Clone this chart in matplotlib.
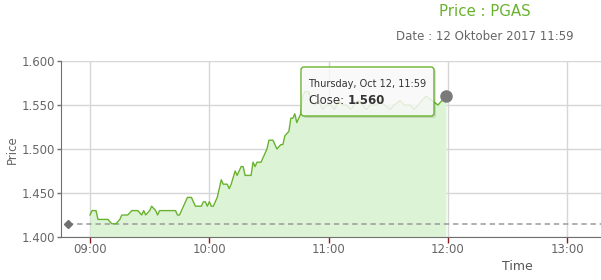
import matplotlib
matplotlib.use("Agg")
import matplotlib.pyplot as plt
from matplotlib.patches import FancyBboxPatch
from matplotlib.transforms import IdentityTransform

# intraday close prices, PGAS, 12 Oct 2017
times = [
    "09:00", "09:01", "09:03", "09:04", "09:09", "09:11", "09:13", "09:15",
    "09:16", "09:19", "09:21", "09:24", "09:26", "09:27", "09:28", "09:30",
    "09:31", "09:33", "09:34", "09:35", "09:43", "09:44", "09:45", "09:47",
    "09:49", "09:51", "09:53", "09:56", "09:57", "09:58", "09:59", "10:00",
    "10:01", "10:02", "10:04", "10:06", "10:07", "10:09", "10:10", "10:11",
    "10:13", "10:14", "10:16", "10:17", "10:18", "10:21", "10:22", "10:23",
    "10:24", "10:26", "10:29", "10:30", "10:32", "10:33", "10:34", "10:36",
    "10:37", "10:38", "10:40", "10:41", "10:42", "10:43", "10:44", "10:45",
    "10:46", "10:47", "10:48", "10:50", "10:51", "10:53", "10:55", "10:57",
    "10:59", "11:01", "11:03", "11:05", "11:07", "11:09", "11:11", "11:13",
    "11:15", "11:17", "11:19", "11:21", "11:24", "11:26", "11:28", "11:31",
    "11:33", "11:36", "11:38", "11:41", "11:43", "11:45", "11:47", "11:49",
    "11:52", "11:55", "11:57", "11:59",
]
close = [
    1.425, 1.430, 1.430, 1.420, 1.420, 1.415, 1.415, 1.420,
    1.425, 1.425, 1.430, 1.430, 1.425, 1.430, 1.425, 1.430,
    1.435, 1.430, 1.425, 1.430, 1.430, 1.425, 1.425, 1.435,
    1.445, 1.445, 1.435, 1.435, 1.440, 1.440, 1.435, 1.440,
    1.435, 1.435, 1.445, 1.465, 1.460, 1.460, 1.455, 1.460,
    1.475, 1.470, 1.480, 1.480, 1.470, 1.470, 1.485, 1.480,
    1.485, 1.485, 1.500, 1.510, 1.510, 1.505, 1.500, 1.505,
    1.505, 1.515, 1.520, 1.535, 1.535, 1.540, 1.530, 1.535,
    1.540, 1.560, 1.565, 1.565, 1.555, 1.550, 1.555, 1.545,
    1.550, 1.550, 1.545, 1.555, 1.550, 1.550, 1.545, 1.550,
    1.555, 1.550, 1.545, 1.550, 1.550, 1.555, 1.550, 1.545,
    1.550, 1.555, 1.550, 1.550, 1.545, 1.550, 1.555, 1.560,
    1.555, 1.550, 1.555, 1.560,
]
prev_close = 1.415
prev_time = "08:49"

hour_ticks = ["09:00", "10:00", "11:00", "12:00", "13:00"]
price_ticks = [1.400, 1.450, 1.500, 1.550, 1.600]


def to_min(t):
    h, m = t.split(":")
    return (int(h) - 9) * 60 + int(m)


x = [to_min(t) for t in times]

GREEN = "#68b32e"
FILL = "#ddf3d5"
GREY_TXT = "#666666"

fig = plt.figure(figsize=(6.01, 2.80), dpi=100)
ax = fig.add_axes([61 / 601, 1 - 237 / 280, 540 / 601, 176 / 280])

ax.fill_between(x, close, 1.40, color=FILL, lw=0, zorder=1)
ax.plot(x, close, color=GREEN, lw=1.0, zorder=3)

ax.plot([to_min(prev_time), 260], [prev_close, prev_close], color="#9a9a9a",
        lw=1.1, ls=(0, (3.5, 2.5)), zorder=2)
ax.plot([to_min(prev_time)], [prev_close], marker="D", ms=4.5, color="#707070",
        zorder=4)
ax.plot([x[-1]], [close[-1]], marker="o", ms=8, color="#7a7a7a", zorder=5,
        clip_on=False)

ax.set_xlim(-14.6, 257)
ax.set_ylim(1.40, 1.60)
ax.set_xticks([to_min(t) for t in hour_ticks])
ax.set_xticklabels(hour_ticks)
ax.set_yticks(price_ticks)
ax.set_yticklabels([f"{v:.3f}" for v in price_ticks])

ax.grid(True, color="#d6d6d6", lw=1.0, zorder=0)
ax.set_axisbelow(True)
for s in ("top", "right"):
    ax.spines[s].set_visible(False)
ax.spines["left"].set_color("#707070")
ax.spines["bottom"].set_color("#707070")
ax.tick_params(axis="x", colors="#8b1a1a", length=4, width=1, labelcolor=GREY_TXT,
               labelsize=8.5, pad=0.5)
ax.tick_params(axis="y", colors="#707070", length=3, width=1, labelcolor=GREY_TXT,
               labelsize=8.5, pad=1)

fig.text(12 / 601, 1 - 150 / 280, "Price", rotation=90, ha="center", va="center",
         fontsize=8.5, color=GREY_TXT)
fig.text(517 / 601, 1 - 267 / 280, "Time", ha="center", va="center",
         fontsize=9, color="#555555")

fig.text(485 / 601, 1 - 11 / 280, "Price : PGAS", ha="center", va="center",
         fontsize=10.8, color=GREEN)
fig.text(485 / 601, 1 - 37 / 280, "Date : 12 Oktober 2017 11:59", ha="center",
         va="center", fontsize=8.5, color=GREY_TXT)

# tooltip box (pixel coords)
shadow = FancyBboxPatch((303, 280 - 118), 133, 49, boxstyle="round,pad=0,rounding_size=3",
                        transform=IdentityTransform(), fc="#000000", alpha=0.12,
                        ec="none", zorder=9)
box = FancyBboxPatch((301, 280 - 116), 133, 49, boxstyle="round,pad=0,rounding_size=3",
                     transform=IdentityTransform(), fc="white", alpha=0.82,
                     ec="none", zorder=10)
border = FancyBboxPatch((301, 280 - 116), 133, 49, boxstyle="round,pad=0,rounding_size=3",
                        transform=IdentityTransform(), fc="none", ec=GREEN,
                        lw=1.0, zorder=11)
fig.patches.extend([shadow, box, border])
fig.text(308 / 601, 1 - 84 / 280, "Thursday, Oct 12, 11:59", ha="left", va="center",
         fontsize=7, color="#333333", zorder=12)
fig.text(308 / 601, 1 - 100 / 280, "Close:", ha="left", va="center",
         fontsize=8.5, color="#333333", zorder=12)
fig.text(348 / 601, 1 - 100 / 280, "1.560", ha="left", va="center",
         fontsize=8.5, color="#333333", weight="bold", zorder=12)

fig.savefig("out.png", dpi=100)
